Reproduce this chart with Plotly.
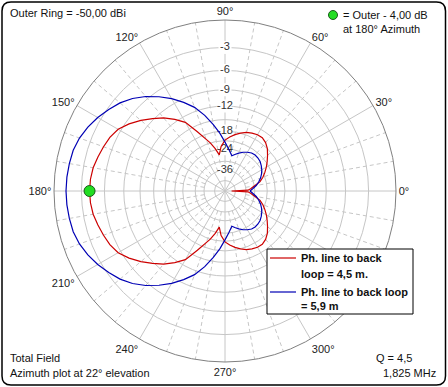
import plotly.graph_objects as go

# ---------------- data ----------------
outer_ring_dbi = -50.0

red_name = "Ph. line to back<br>loop = 4,5 m."
red_az = [0, 2, 5, 10, 15, 20, 25, 30, 35, 40, 45, 50, 55, 60, 65, 70, 75, 80, 85, 90,
          95, 99, 103, 107, 110, 115, 120, 125, 130, 135, 140, 145, 150, 155, 160, 165,
          170, 175, 180, 185, 190, 195, 200, 205, 210, 215, 220, 225, 230, 235, 240,
          245, 250, 253, 257, 261, 265, 270, 275, 280, 285, 290, 295, 300, 305, 310,
          315, 320, 325, 330, 335, 340, 345, 350, 355, 358, 360]
red_dbi = [-106.0, -84.5, -82.5, -79.8, -76.6, -74.8, -73.3, -71.9, -70.6, -69.3, -68.0,
           -67.1, -66.6, -66.6, -66.9, -67.3, -68.0, -68.8, -69.7, -70.8, -73.0, -76.5,
           -73.5, -71.0, -69.5, -66.5, -63.2, -61.5, -60.0, -58.8, -57.6, -56.5, -55.6,
           -55.1, -54.8, -54.5, -54.2, -54.05, -54.0,
           -54.05, -54.2, -54.5, -54.8, -55.1, -55.6, -56.5, -57.6, -58.8, -60.0, -61.5,
           -63.2, -66.5, -69.5, -71.0, -73.5, -76.5, -73.0, -70.8, -69.7, -68.8, -68.0,
           -67.3, -66.9, -66.6, -66.6, -67.1, -68.0, -69.3, -70.6, -71.9, -73.3, -74.8,
           -76.6, -79.8, -82.5, -84.5, -106.0]

blue_name = "Ph. line to back loop<br>= 5,9 m"
blue_az = [0, 5, 10, 15, 20, 25, 30, 35, 40, 45, 50, 55, 60, 65, 70, 75, 79, 85, 90, 95,
           100, 105, 110, 115, 120, 125, 130, 135, 140, 145, 150, 155, 160, 165, 170, 175,
           180, 185, 190, 195, 200, 205, 210, 215, 220, 225, 230, 235, 240, 245, 250, 255,
           260, 265, 270, 275, 281, 285, 290, 295, 300, 305, 310, 315, 320, 325, 330, 335,
           340, 345, 350, 355, 360]
blue_dbi = [-83.0, -81.0, -78.9, -77.3, -75.9, -74.8, -73.9, -73.2, -72.6, -72.3, -72.2,
            -72.4, -73.0, -73.8, -74.8, -75.9, -76.8, -74.0, -71.5, -68.6, -66.0, -63.4,
            -61.2, -59.6, -58.1, -56.8, -55.6, -54.6, -53.8, -53.2, -52.6, -52.1, -51.7,
            -51.45, -51.35, -51.28, -51.25,
            -51.28, -51.35, -51.45, -51.7, -52.1, -52.6, -53.2, -53.8, -54.6, -55.6, -56.8,
            -58.1, -59.6, -61.2, -63.4, -66.0, -68.6, -71.5, -74.0, -76.8, -75.9, -74.8,
            -73.8, -73.0, -72.4, -72.2, -72.3, -72.6, -73.2, -73.9, -74.8, -75.9, -77.3,
            -78.9, -81.0, -83.0]

marker_az = [180]
marker_dbi = [-54.0]

ring_levels_db = [-3, -6, -9, -12, -15, -18, -21, -24, -30, -36, -48]
ring_label_db = [-3, -6, -9, -12, -18, -24, -36]
ring_label_text = ["-3", "-6", "-9", "-12", "-18", "-24", "-36"]
angle_ticks = [0, 30, 60, 90, 120, 150, 180, 210, 240, 270, 300, 330]
# 330° label is hidden behind the legend box in the original
angle_labels = ["0°", "30°", "60°", "90°", "120°", "150°", "180°", "210°", "240°",
                "270°", "300°", ""]
minor_spokes = [a for a in range(0, 360, 10) if a % 30 != 0]


# ARRL log scale: 0.89 per 2 dB below outer ring
def arrl(rel_db):
    return 0.89 ** (-rel_db / 2.0)


def to_r(gains):
    return [arrl(g - outer_ring_dbi) for g in gains]


W, H = 448, 387
FONT = "Liberation Sans, Arial, sans-serif"
GRID = "#c6c6c6"
RED = "#cc0000"
BLUE = "#0000b4"

fig = go.Figure()

# dashed minor spokes
st, sr = [], []
for a in minor_spokes:
    st += [a, a, None]
    sr += [arrl(-36), 1.0, None]
fig.add_trace(go.Scatterpolar(theta=st, r=sr, mode="lines",
                              line=dict(color=GRID, width=1, dash="4px,3px"),
                              hoverinfo="skip", showlegend=False))

# ring labels
fig.add_trace(go.Scatterpolar(
    theta=[90] * len(ring_label_db), r=[arrl(d) for d in ring_label_db],
    mode="markers+text", text=ring_label_text, textposition="middle center",
    marker=dict(symbol="square", size=13, color="white"),
    textfont=dict(family=FONT, size=11, color="#333333"),
    hoverinfo="skip", showlegend=False))

fig.add_trace(go.Scatterpolar(theta=red_az, r=to_r(red_dbi), mode="lines",
                              line=dict(color=RED, width=1.2), name=red_name,
                              hoverinfo="skip", showlegend=False))
fig.add_trace(go.Scatterpolar(theta=blue_az, r=to_r(blue_dbi), mode="lines",
                              line=dict(color=BLUE, width=1.2), name=blue_name,
                              hoverinfo="skip", showlegend=False))
fig.add_trace(go.Scatterpolar(theta=marker_az, r=to_r(marker_dbi), mode="markers",
                              marker=dict(size=11, color="#22dd22",
                                          line=dict(color="#1a5a1a", width=1)),
                              hoverinfo="skip", showlegend=False))

R = 171
cx, cy = 225, 191
fig.update_layout(
    width=W, height=H, margin=dict(l=0, r=0, t=0, b=0),
    paper_bgcolor="white", plot_bgcolor="white",
    font=dict(family=FONT, size=11, color="#222222"),
    polar=dict(
        domain=dict(x=[(cx - R) / W, (cx + R) / W], y=[1 - (cy + R) / H, 1 - (cy - R) / H]),
        bgcolor="white",
        radialaxis=dict(range=[0, 1], tickvals=[arrl(d) for d in ring_levels_db],
                        showticklabels=False, ticks="", showline=False,
                        gridcolor=GRID, gridwidth=1),
        angularaxis=dict(rotation=0, direction="counterclockwise",
                         tickvals=angle_ticks, ticktext=angle_labels, ticks="",
                         showline=True, linecolor="#808080", linewidth=1,
                         gridcolor=GRID, gridwidth=1,
                         tickfont=dict(family=FONT, size=11, color="#222222")),
    ),
)


def px(x):
    return x / W


def py(y):
    return 1 - y / H


# rounded frame
x0, x1, yt, yb, rr = px(2), px(445.5), py(2), py(385), 9
rx, ry = rr / W, rr / H
path = (f"M {x0+rx},{yt} L {x1-rx},{yt} Q {x1},{yt} {x1},{yt-ry} L {x1},{yb+ry} "
        f"Q {x1},{yb} {x1-rx},{yb} L {x0+rx},{yb} Q {x0},{yb} {x0},{yb+ry} "
        f"L {x0},{yt-ry} Q {x0},{yt} {x0+rx},{yt} Z")
shapes = [dict(type="path", xref="paper", yref="paper", path=path,
               line=dict(color="black", width=1.5), layer="above")]

# legend box
shapes.append(dict(type="rect", xref="paper", yref="paper", x0=px(267), x1=px(413),
                   y0=py(314), y1=py(249), fillcolor="white",
                   line=dict(color="black", width=1), layer="above"))
shapes.append(dict(type="line", xref="paper", yref="paper", x0=px(270), x1=px(296),
                   y0=py(258), y1=py(258), line=dict(color=RED, width=1.2), layer="above"))
shapes.append(dict(type="line", xref="paper", yref="paper", x0=px(270), x1=px(296),
                   y0=py(292), y1=py(292), line=dict(color=BLUE, width=1.2), layer="above"))
# green legend dot
shapes.append(dict(type="circle", xref="paper", yref="paper", x0=px(328.5), x1=px(337.5),
                   y0=py(19.5), y1=py(10.5), fillcolor="#22dd22",
                   line=dict(color="#1a5a1a", width=1), layer="above"))
fig.update_layout(shapes=shapes)

anns = []


def ann(x, y, text, bold=False):
    t = f"<b>{text}</b>" if bold else text
    anns.append(dict(x=px(x), y=py(y), xref="paper", yref="paper", text=t,
                     showarrow=False, xanchor="left", yanchor="middle",
                     font=dict(family=FONT, size=11, color="#111111")))


ann(8, 13, "Outer Ring = -50,00 dBi")
ann(341, 15, "= Outer - 4,00 dB")
ann(341, 29, "at 180° Azimuth")
ann(8, 358, "Total Field")
ann(8, 373, "Azimuth plot at 22° elevation")
ann(374, 358, "Q = 4,5")
ann(381, 373, "1,825 MHz")
ann(299, 258, "Ph. line to back", True)
ann(299, 274, "loop = 4,5 m.", True)
ann(299, 292, "Ph. line to back loop", True)
ann(299, 306, "= 5,9 m", True)
fig.update_layout(annotations=anns)

fig.write_html("out.html",
               config={"displayModeBar": False, "staticPlot": True},
               post_script="document.body.style.margin='0';"
                           "document.body.style.overflow='hidden';")
